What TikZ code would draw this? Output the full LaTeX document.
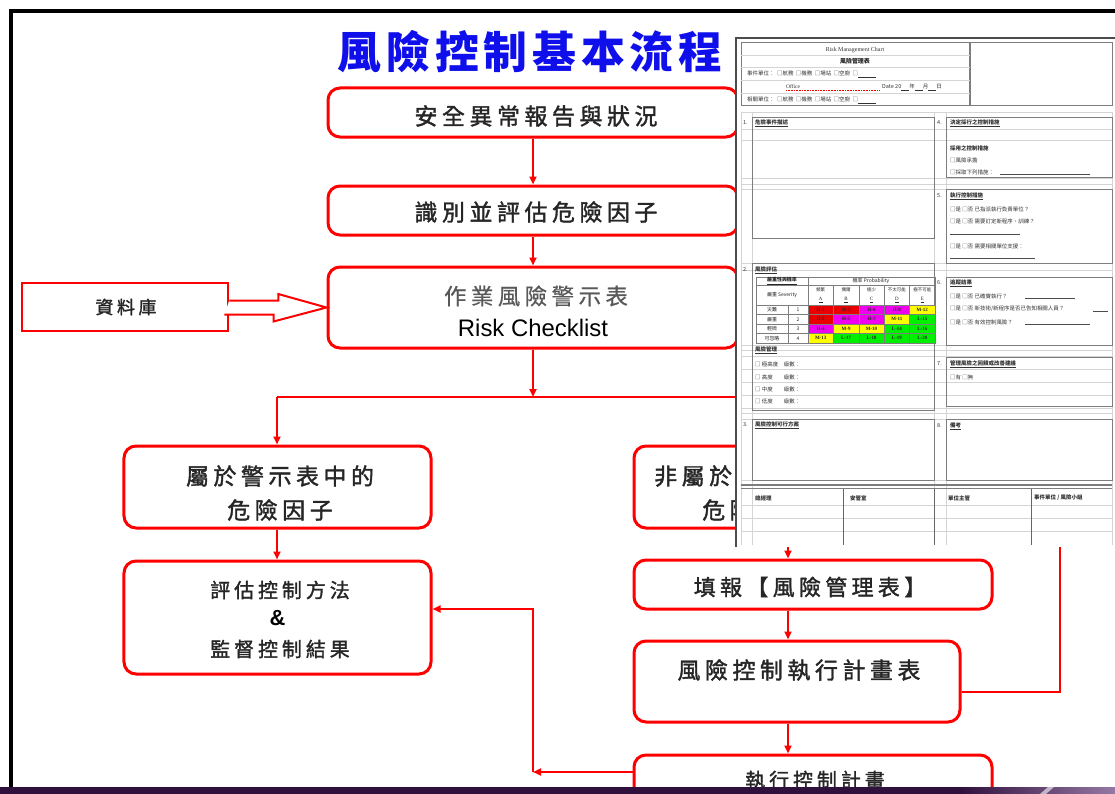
\documentclass[tikz,border=0pt]{standalone}
\usepackage{fontspec}
\setmainfont{Liberation Serif}
\newfontfamily\cjk[LetterSpace=20,FakeBold=1.6]{Noto Sans CJK TC}
\newfontfamily\cjkl[LetterSpace=20,FakeBold=0.6]{Noto Sans CJK TC}
\newfontfamily\cjktitle[LetterSpace=11]{Noto Sans CJK TC}
\newfontfamily\cjks{Noto Sans CJK TC}
\newfontfamily\arial{Liberation Sans}
\usetikzlibrary{arrows.meta}
\definecolor{fred}{RGB}{255,0,0}
\definecolor{tblue}{RGB}{15,15,235}
\definecolor{fgray}{RGB}{125,125,125}
\definecolor{lgray}{RGB}{212,212,212}
\definecolor{mred}{RGB}{235,0,0}
\definecolor{mmag}{RGB}{240,0,240}
\definecolor{myel}{RGB}{255,255,0}
\definecolor{mgrn}{RGB}{0,240,0}
\definecolor{bpurple}{RGB}{48,16,60}
\definecolor{lpurple}{RGB}{150,120,165}
\tikzset{
  flowbox/.style={draw=fred, line width=3bp, rounded corners=12bp, fill=white, inner sep=0pt},
  link/.style={draw=fred, line width=2.5bp, -{Triangle[length=8bp,width=7bp]}},
  plain/.style={draw=fred, line width=2.5bp},
  ftxt/.style={inner sep=0pt, text=black!85},
  tinyt/.style={font=\cjks\fontsize{5.5}{6}\selectfont, inner sep=0pt, anchor=west, text=black!80},
  tinyc/.style={font=\cjks\fontsize{5}{5.5}\selectfont, inner sep=0pt, text=black!85},
  sect/.style={draw=fgray, line width=0.9bp},
  guide/.style={draw=lgray, line width=0.6bp},
}
\begin{document}
\begin{tikzpicture}[x=1bp,y=-1bp]
\useasboundingbox (0,0) rectangle (1115,794);
\fill[white] (0,0) rectangle (1115,794);
% frame
\draw[line width=4bp, black] (11,794) -- (11,11) -- (1115,11);
% title
\node[font=\cjktitle\bfseries\fontsize{44}{44}\selectfont, text=tblue, inner sep=0pt] (title) at (530,52) {風險控制基本流程};

% boxes
\node[flowbox, minimum width=410bp, minimum height=49bp] (b1) at (533,112.5) {};
\node[ftxt, font=\cjk\fontsize{23}{23}\selectfont] (t1) at (536,116) {安全異常報告與狀況};
\node[flowbox, minimum width=410bp, minimum height=49bp] (b2) at (533,210.5) {};
\node[ftxt, font=\cjk\fontsize{23}{23}\selectfont] (t2) at (536,212) {識別並評估危險因子};
\node[flowbox, minimum width=410bp, minimum height=81bp] (b3) at (533,307.5) {};
\node[ftxt, font=\cjkl\fontsize{22.5}{22.5}\selectfont, text=black!65] (t3a) at (536,296) {作業風險警示表};
\node[ftxt, font=\arial\fontsize{24}{24}\selectfont, text=black] (t3b) at (533,328) {Risk Checklist};

\node[draw=fred, line width=2.5bp, fill=white, minimum width=206bp, minimum height=48bp, inner sep=0pt] (db) at (125,307) {};
\node[ftxt, font=\cjk\fontsize{18}{18}\selectfont] (tdb) at (126,307) {資料庫};
% block arrow
\draw[draw=fred, line width=2bp, fill=white, line join=miter]
  (db.east) ++(0,-6.5) -- ++(49,0) -- ++(0,-6.5) -- (b3.west) -- ++(-53,14) -- ++(0,-7) -- ++(-49,0);

\node[flowbox, minimum width=307bp, minimum height=82bp] (b4) at (277.5,487) {};
\node[ftxt, font=\cjk\fontsize{23}{23}\selectfont] (t4a) at (280,476) {屬於警示表中的};
\node[ftxt, font=\cjk\fontsize{23}{23}\selectfont] (t4b) at (280,510) {危險因子};

\node[flowbox, minimum width=307bp, minimum height=113bp] (b5) at (277.5,617.5) {};
\node[ftxt, font=\cjk\fontsize{20}{20}\selectfont] (t5a) at (280,590) {評估控制方法};
\node[ftxt, font=\arial\bfseries\fontsize{22}{22}\selectfont, text=black] (t5b) at (277.5,618) {\&};
\node[ftxt, font=\cjk\fontsize{20}{20}\selectfont] (t5c) at (280,649) {監督控制結果};

\node[flowbox, minimum width=308bp, minimum height=82bp] (b6) at (788,487) {};
\node[ftxt, font=\cjk\fontsize{23}{23}\selectfont, anchor=west] (t6a) at (654,476) {非屬於警示表中的};
\node[ftxt, font=\cjk\fontsize{23}{23}\selectfont] (t6b) at (755,510) {危險因子};

\node[flowbox, minimum width=358bp, minimum height=49bp] (b7) at (813,584.5) {};
\node[ftxt, font=\cjk\fontsize{22}{22}\selectfont] (t7) at (810,587) {填報【風險管理表】};
\node[flowbox, minimum width=326bp, minimum height=81bp] (b8) at (797,681.5) {};
\node[ftxt, font=\cjk\fontsize{23}{23}\selectfont] (t8) at (799,670) {風險控制執行計畫表};
\node[flowbox, minimum width=358bp, minimum height=75bp] (b9) at (813,792.5) {};
\node[ftxt, font=\cjk\fontsize{20}{20}\selectfont] (t9) at (815,780) {執行控制計畫};

% connectors
\coordinate (cx) at (788,0);
\coordinate (j1) at (533,397);
\coordinate (jl) at (277,397);
\coordinate (jr) at (788,397);
\coordinate (r1) at (1060,692);
\coordinate (r2) at (1060,487);
\coordinate (j3) at (533,772);
\coordinate (j4) at (533,609);
\draw[link] (b1) -- (b2);
\draw[link] (b2) -- (b3);
\draw[link] (b3) -- (j1);
\draw[plain] (jl) -- (jr);
\draw[link] (jl) -- (b4.north -| jl);
\draw[link] (jr) -- (b6.north);
\draw[link] (b4.south -| jl) -- (b5.north -| jl);
\draw[link] (b6.south -| cx) -- (b7.north -| cx);
\draw[link] (b7.south -| cx) -- (b8.north -| cx);
\draw[link] (b8.south -| cx) -- (b9.north -| cx);
\draw[link] (b8.east |- r1) -- (r1) -- (r2) -- (b6.east);
\draw[link] (b9.west |- j3) -- (j3);
\draw[link] (j3) -- (j4) -- (b5.east |- j4);

% ===== form image =====
\fill[white] (735,37) rectangle (1115,547);
\draw[black!70, line width=2.5bp] (736,547) -- (736,38) -- (1115,38);
% header
\draw[fgray, line width=1bp] (741,43) rectangle (1112,105);
\draw[fgray, line width=1.4bp] (970,43) -- (970,105);
\draw[guide] (741,55) -- (970,55);
\draw[guide] (741,67) -- (970,67);
\draw[guide] (741,80) -- (970,80);
\draw[guide] (741,93) -- (970,93);
\node[font=\fontsize{6}{6}\selectfont, inner sep=0pt, text=black!80] (h1) at (855,50) {Risk Management Chart};
\node[font=\cjks\bfseries\fontsize{6}{6}\selectfont, inner sep=0pt, text=black!85] (h2) at (855,61) {風險管理表};
\node[tinyt] (h3) at (747,74) {事件單位：\ \ □航務\ \ □機務\ \ □場站\ \ □空廚\ \ □\underline{\hspace{18bp}}};
\node[tinyt, font=\fontsize{5.5}{6}\selectfont] (h4) at (786,87) {Office};
\draw[red, densely dotted, line width=0.6bp] (786,90) -- (880,90);
\node[tinyt] (h5) at (882,87) {Date 20\underline{\hspace{8bp}}年\underline{\hspace{8bp}}月\underline{\hspace{8bp}}日};
\node[tinyt] (h6) at (747,100) {相關單位：\ \ □航務\ \ □機務\ \ □場站\ \ □空廚\ \ □\underline{\hspace{18bp}}};

% guides
\foreach \yy in {112,129,140,178,184,189,263,270,345,350,356,369,382,395,408,413,419,480}
  \draw[guide] (741,\yy) -- (1112,\yy);
\foreach \xx in {741,752,934,946,1112}
  \draw[guide] (\xx,112) -- (\xx,545);

% sections
\draw[sect] (752,117) rectangle (934,238);
\draw[sect] (752,263) rectangle (934,410);
\draw[sect] (752,419) rectangle (934,480);
\draw[sect] (946,117) rectangle (1112,177);
\draw[sect] (946,189) rectangle (1112,263);
\draw[sect] (946,277) rectangle (1112,345);
\draw[sect] (946,357) rectangle (1112,406);
\draw[sect] (946,419) rectangle (1112,480);

\node[tinyt] (n1) at (743,123) {1.};
\node[tinyt] (n2) at (743,270) {2.};
\node[tinyt] (n3) at (743,425) {3.};
\node[tinyt] (n4) at (937,123) {4.};
\node[tinyt] (n5) at (937,196) {5.};
\node[tinyt] (n6) at (937,283) {6.};
\node[tinyt] (n7) at (937,364) {7.};
\node[tinyt] (n8) at (937,426) {8.};

\node[tinyt, font=\cjks\bfseries\fontsize{5.5}{6}\selectfont] (s1) at (755,123) {\underline{危險事件描述}};
\node[tinyt, font=\cjks\bfseries\fontsize{5.5}{6}\selectfont] (s2) at (755,270) {\underline{風險評估}};
\node[tinyt, font=\cjks\bfseries\fontsize{5.5}{6}\selectfont] (s2b) at (755,350) {\underline{風險管理}};
\node[tinyt] (s2c) at (755,364) {□ 極高度\quad 級數：};
\node[tinyt] (s2d) at (755,377) {□ 高度\qquad 級數：};
\node[tinyt] (s2e) at (755,389) {□ 中度\qquad 級數：};
\node[tinyt] (s2f) at (755,401) {□ 低度\qquad 級數：};
\node[tinyt, font=\cjks\bfseries\fontsize{5.5}{6}\selectfont] (s3) at (755,425) {\underline{風險控制可行方案}};

\node[tinyt, font=\cjks\bfseries\fontsize{5.5}{6}\selectfont] (s4) at (950,123) {\underline{決定採行之控制措施}};
\node[tinyt, font=\cjks\bfseries\fontsize{5.5}{6}\selectfont] (s4a) at (950,148) {採用之控制措施};
\node[tinyt] (s4b) at (950,160) {□風險承擔};
\node[tinyt] (s4c) at (950,172) {□採取下列措施：};
\draw[black!70, line width=0.5bp] (1000,174) -- (1090,174);
\node[tinyt, font=\cjks\bfseries\fontsize{5.5}{6}\selectfont] (s5) at (950,196) {\underline{執行控制措施}};
\node[tinyt] (s5a) at (950,209) {□是\ □否\ 已指派執行負責單位？};
\node[tinyt] (s5b) at (950,221) {□是\ □否\ 需要訂定新程序、訓練？};
\draw[black!70, line width=0.5bp] (950,234) -- (1020,234);
\node[tinyt] (s5c) at (950,246) {□是\ □否\ 需要相關單位支援：};
\draw[black!70, line width=0.5bp] (950,258) -- (1035,258);
\node[tinyt, font=\cjks\bfseries\fontsize{5.5}{6}\selectfont] (s6) at (950,283) {\underline{追蹤結果}};
\node[tinyt] (s6a) at (950,296) {□是\ □否\ 已確實執行？};
\draw[black!70, line width=0.5bp] (1025,298) -- (1075,298);
\node[tinyt] (s6b) at (950,309) {□是\ □否\ 新技術/新程序是否已告知相關人員？};
\draw[black!70, line width=0.5bp] (1093,311) -- (1108,311);
\node[tinyt] (s6c) at (950,322) {□是\ □否\ 有效控制風險？};
\draw[black!70, line width=0.5bp] (1025,324) -- (1090,324);
\node[tinyt, font=\cjks\bfseries\fontsize{5.5}{6}\selectfont] (s7) at (950,364) {\underline{管理風險之回饋或改善建議}};
\node[tinyt] (s7a) at (950,377) {□有\ □無};
\node[tinyt, font=\cjks\bfseries\fontsize{5.5}{6}\selectfont] (s8) at (950,426) {\underline{備考}};

% risk matrix
\draw[fgray, line width=0.7bp] (756,277) rectangle (935,343);
\foreach \yy in {285,305,314.5,324,333.5} \draw[fgray, line width=0.6bp] (756,\yy) -- (935,\yy);
\foreach \xx in {808,833.4,858.8,884.2,909.6} \draw[fgray, line width=0.6bp] (\xx,285) -- (\xx,343);
\draw[fgray, line width=0.6bp] (808,277) -- (808,285);
\draw[fgray, line width=0.6bp] (788,305) -- (788,343);
\foreach \yy/\row in {305/{mred/H-1,mred/H-3,mmag/H-6,mmag/H-8,myel/M-12},
                      314.5/{mred/H-2,mmag/H-5,mmag/H-7,myel/M-11,mgrn/L-15},
                      324/{mmag/H-4,myel/M-9,myel/M-10,mgrn/L-14,mgrn/L-16},
                      333.5/{myel/M-13,mgrn/L-17,mgrn/L-18,mgrn/L-19,mgrn/L-20}}{
  \foreach \cc/\tt [count=\i] in \row {
    \pgfmathsetmacro\xx{808+25.4*(\i-1)}
    \fill[\cc] (\xx,\yy) rectangle ++(25.4,9.5);
    \draw[fgray, line width=0.5bp] (\xx,\yy) rectangle ++(25.4,9.5);
    \node[tinyc, font=\bfseries\fontsize{5}{5}\selectfont] (m-\yy-\i) at (\xx+12.7,\yy+4.75) {\tt};
  }
}
\node[tinyc, font=\cjks\bfseries\fontsize{5}{5}\selectfont] (mh1) at (782,281) {\underline{嚴重性與機率}};
\node[tinyc] (mh2) at (871,281) {機率 Probability};
\node[tinyc] (mh3) at (782,295) {嚴重 Severity};
\foreach \nm/\lt [count=\i] in {頻繁/A,偶爾/B,極少/C,不太可能/D,極不可能/E}{
  \pgfmathsetmacro\xx{808+25.4*(\i-1)+12.7}
  \node[tinyc, font=\cjks\fontsize{4.5}{5}\selectfont] (mc-\i) at (\xx,290) {\nm};
  \node[tinyc, font=\fontsize{5}{5}\selectfont] (ml-\i) at (\xx,300) {\underline{\lt}};
}
\foreach \lab/\num/\yy in {災難/1/309.75,嚴重/2/319.25,輕微/3/328.75,可忽略/4/338.25}{
  \node[tinyc] (rl-\num) at (772,\yy) {\lab};
  \node[tinyc] (rn-\num) at (798,\yy) {\num};
}

% signature table
\draw[fgray, line width=1.4bp] (741,485) -- (1112,485);
\draw[fgray, line width=0.8bp] (741,488.5) -- (1112,488.5);
\foreach \yy in {505,518,531} \draw[guide] (741,\yy) -- (1112,\yy);
\draw[black!60, line width=1bp] (843,489) -- (843,545);
\draw[black!60, line width=1bp] (1031,489) -- (1031,545);
\draw[black!60, line width=1bp] (934,489) -- (934,545);
\node[tinyt, font=\cjks\bfseries\fontsize{5.5}{6}\selectfont] (g1) at (755,498) {總經理};
\node[tinyt, font=\cjks\bfseries\fontsize{5.5}{6}\selectfont] (g2) at (850,498) {安管室};
\node[tinyt, font=\cjks\bfseries\fontsize{5.5}{6}\selectfont] (g3) at (948,498) {單位主管};
\node[tinyt, font=\cjks\bfseries\fontsize{5.5}{6}\selectfont] (g4) at (1034,498) {事件單位 / 風險小組};

% bottom bar
\fill[bpurple] (0,787) rectangle (1115,794);
\shade[left color=bpurple, right color=lpurple] (960,787) rectangle (1115,794);
\fill[white, opacity=0.6] (1040,794) -- (1048,787) -- (1054,787) -- (1046,794) -- cycle;
\end{tikzpicture}
\end{document}
